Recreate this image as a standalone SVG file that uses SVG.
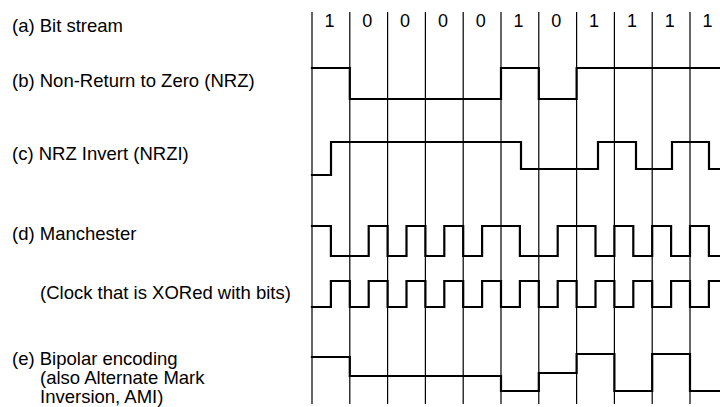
<svg xmlns="http://www.w3.org/2000/svg" width="720" height="407" viewBox="0 0 720 407">
<style>
.lbl{font-family:"Liberation Sans",Arial,Helvetica,sans-serif;font-size:18.5px;fill:#000}
.bit{font-family:"Liberation Sans",Arial,Helvetica,sans-serif;font-size:18px;fill:#000;text-anchor:middle}
.grid{stroke:#000;stroke-width:1.2;fill:none}
.sig{stroke:#000;stroke-width:2.2;fill:none;stroke-linejoin:miter;stroke-linecap:square}
</style>
<rect width="720" height="407" fill="#fff"/>
<g id="labels">
<text class="lbl" x="12" y="32">(a) Bit stream</text>
<text class="lbl" x="12" y="87">(b) Non-Return to Zero (NRZ)</text>
<text class="lbl" x="12" y="160">(c) NRZ Invert (NRZI)</text>
<text class="lbl" x="12" y="240">(d) Manchester</text>
<text class="lbl" x="40" y="299">(Clock that is XORed with bits)</text>
<text class="lbl" x="12" y="365">(e) Bipolar encoding</text>
<text class="lbl" x="40" y="384">(also Alternate Mark</text>
<text class="lbl" x="40" y="403">Inversion, AMI)</text>
</g>
<g id="grid">
<path class="grid" d="M312,12V404M349.8,12V404M387.6,12V404M425.4,12V404M463.2,12V404M501,12V404M538.8,12V404M576.6,12V404M614.4,12V404M652.2,12V404M690,12V404"/>
</g>
<g id="bits">
<text class="bit" x="329.5" y="27">1</text>
<text class="bit" x="367.3" y="27">0</text>
<text class="bit" x="405.1" y="27">0</text>
<text class="bit" x="442.9" y="27">0</text>
<text class="bit" x="480.7" y="27">0</text>
<text class="bit" x="518.5" y="27">1</text>
<text class="bit" x="556.3" y="27">0</text>
<text class="bit" x="594.1" y="27">1</text>
<text class="bit" x="631.9" y="27">1</text>
<text class="bit" x="669.7" y="27">1</text>
<text class="bit" x="707.5" y="27">1</text>
</g>
<g id="connectors">
<path id="nrz" class="sig" d="M312,68H349.8V99H501V68H538.8V99H576.6V68H720"/>
<path id="nrzi" class="sig" d="M312,175H331V142H521V169H598V142H636V169H672V142H709V169H721"/>
<path id="manchester" class="sig" d="M312,226H330.9V256H368.7V226H387.6V256H406.5V226H425.4V256H444.3V226H463.2V256H482.1V226H519.9V256H557.7V226H595.5V256H614.4V226H633.3V256H652.2V226H671.1V256H690V226H708.9V256H721"/>
<path id="clock" class="sig" d="M312,307H330.9V281H349.8V307H368.7V281H387.6V307H406.5V281H425.4V307H444.3V281H463.2V307H482.1V281H501V307H519.9V281H538.8V307H557.7V281H576.6V307H595.5V281H614.4V307H633.3V281H652.2V307H671.1V281H690V307H708.9V281H721"/>
<path id="bipolar" class="sig" d="M312,357H349.8V376H501V391H538.8V373H576.6V354H614.4V391H652.2V354H690V391H721"/>
</g>
</svg>
